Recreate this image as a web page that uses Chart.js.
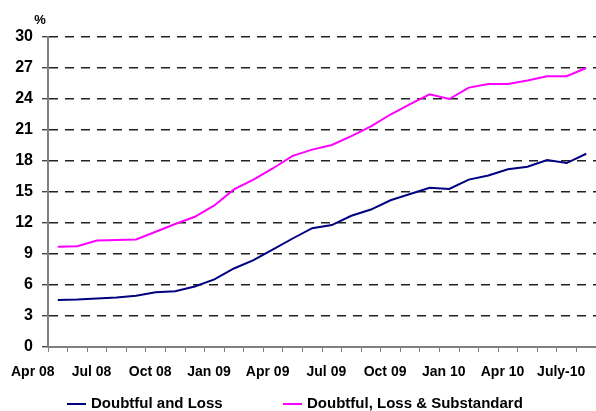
<!DOCTYPE html>
<html>
<head>
<meta charset="utf-8">
<script src="https://cdn.jsdelivr.net/npm/chart.js@4.4.0/dist/chart.umd.min.js"></script>
<style>
  html, body { margin: 0; padding: 0; background: #fff; }
  #wrap { width: 596px; height: 411px; }
</style>
</head>
<body>
<div id="wrap"><canvas id="nplChart" width="596" height="411"></canvas></div>
<script>
// Monthly observations, Apr 08 .. Jul 10
const months = ['Apr 08', 'May 08', 'Jun 08', 'Jul 08', 'Aug 08', 'Sep 08', 'Oct 08', 'Nov 08', 'Dec 08',
    'Jan 09', 'Feb 09', 'Mar 09', 'Apr 09', 'May 09', 'Jun 09', 'Jul 09', 'Aug 09', 'Sep 09', 'Oct 09',
    'Nov 09', 'Dec 09', 'Jan 10', 'Feb 10', 'Mar 10', 'Apr 10', 'May 10', 'Jun 10', 'July-10'];
const doubtfulLoss = [4.55, 4.6, 4.7, 4.8, 4.95, 5.3, 5.4, 5.85, 6.55, 7.6, 8.4, 9.45, 10.5, 11.5,
    11.8, 12.7, 13.3, 14.2, 14.8, 15.4, 15.3, 16.2, 16.6, 17.2, 17.45, 18.1, 17.8, 18.7];
const doubtfulLossSub = [9.7, 9.75, 10.3, 10.35, 10.4, 11.15, 11.9, 12.6, 13.7, 15.25, 16.2, 17.3, 18.5, 19.1,
    19.55, 20.4, 21.35, 22.5, 23.5, 24.45, 24.0, 25.1, 25.45, 25.45, 25.8, 26.2, 26.2, 27.0];
const seriesNames = ['Doubtful and Loss', 'Doubtful, Loss & Substandard'];
const seriesColors = ['#000080', '#FF00FF'];

const FONT = "'Liberation Sans', Arial, sans-serif";
Chart.defaults.font.family = FONT;
Chart.defaults.font.weight = 'bold';
Chart.defaults.color = '#000';

// legend and the "%" unit drawn below / above the plot
const extras = {
    id: 'extras',
    afterDraw(chart) {
        const ctx = chart.ctx;
        ctx.save();
        ctx.fillStyle = '#000';
        ctx.font = 'bold 13px ' + FONT;
        ctx.textAlign = 'center';
        ctx.textBaseline = 'middle';
        ctx.fillText('%', 40, 20);

        const items = [{ x: 67, name: seriesNames[0], color: seriesColors[0] },
                       { x: 283, name: seriesNames[1], color: seriesColors[1] }];
        const y = 404;
        ctx.font = 'bold 15px ' + FONT;
        ctx.textAlign = 'left';
        items.forEach(it => {
            ctx.strokeStyle = it.color;
            ctx.lineWidth = 2;
            ctx.beginPath();
            ctx.moveTo(it.x, y);
            ctx.lineTo(it.x + 19, y);
            ctx.stroke();
            ctx.fillText(it.name, it.x + 24, y);
        });
        ctx.restore();
    }
};

const ctx = document.getElementById('nplChart').getContext('2d');
new Chart(ctx, {
    type: 'line',
    data: {
        labels: months,
        datasets: [{
            label: seriesNames[0],
            data: doubtfulLoss,
            borderColor: seriesColors[0],
            borderWidth: 2,
            pointRadius: 0,
            tension: 0
        }, {
            label: seriesNames[1],
            data: doubtfulLossSub,
            borderColor: seriesColors[1],
            borderWidth: 2,
            pointRadius: 0,
            tension: 0
        }]
    },
    options: {
        responsive: false,
        animation: false,
        layout: { padding: { top: 37, bottom: 28, left: 0, right: 0 } },
        plugins: {
            legend: { display: false },
            tooltip: { enabled: false }
        },
        scales: {
            x: {
                offset: true,
                grid: {
                    offset: true,
                    drawOnChartArea: false,
                    drawTicks: true,
                    tickLength: 5,
                    color: '#808080'
                },
                border: { color: '#808080', width: 2 },
                ticks: {
                    autoSkip: false,
                    maxRotation: 0,
                    minRotation: 0,
                    padding: 12,
                    labelOffset: -25,
                    font: { size: 14, weight: 'bold' },
                    callback: function (val, i) { return i % 3 === 0 ? this.getLabelForValue(val) : ''; }
                },
                afterFit: s => { s.height = 36; s.paddingLeft = 0; s.paddingRight = 0; }
            },
            y: {
                min: 0,
                max: 30,
                grid: {
                    color: c => (c.tick && c.tick.value === 0 ? 'rgba(0,0,0,0)' : '#222'),
                    tickColor: '#444',
                    tickLength: 6,
                    lineWidth: 1.4
                },
                border: { color: '#808080', width: 2, dash: [9, 7] },
                ticks: {
                    stepSize: 3,
                    padding: 9,
                    font: { size: 16, weight: 'bold' }
                },
                afterFit: s => { s.width = 48; }
            }
        }
    },
    plugins: [extras]
});
</script>
</body>
</html>
